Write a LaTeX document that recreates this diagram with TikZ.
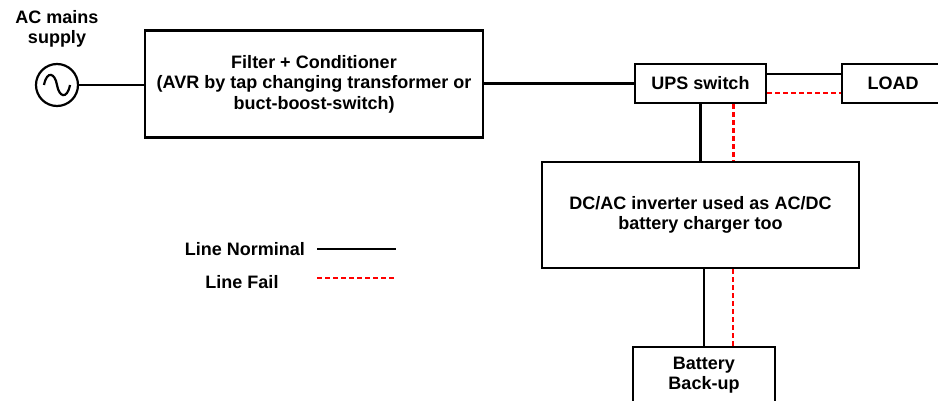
\documentclass[tikz,border=0pt]{standalone}
\usepackage{fontspec}
\setmainfont{Liberation Sans}
\begin{document}
\begin{tikzpicture}[x=1pt,y=-1pt,
  txt/.style={font=\fontsize{18}{20.5}\selectfont\bfseries,align=center,inner sep=0pt},
  blk/.style={draw=black,line width=2.6pt,rectangle,inner sep=0pt,font=\fontsize{18}{20.5}\selectfont\bfseries,align=center},
  nominal/.style={draw=black,line width=2.6pt},
  fail/.style={draw=red,line width=2.4pt,dash pattern=on 5pt off 3pt}]
\useasboundingbox (0,0) rectangle (938,401);
\clip (0,0) rectangle (938,401);
% nodes
\node[txt] (aclbl) at (57,29) {AC mains\\supply};
\node[draw=black,line width=2.2pt,circle,minimum size=42pt,inner sep=0pt] (ac) at (57,85) {};
\draw[line width=2.2pt] ([xshift=-13pt]ac.center) .. controls ([xshift=-10pt,yshift=15pt]ac.center) and ([xshift=-2pt,yshift=12pt]ac.center) .. (ac.center)
  .. controls ([xshift=2pt,yshift=-12pt]ac.center) and ([xshift=10pt,yshift=-15pt]ac.center) .. ([xshift=13pt]ac.center);
\node[blk,minimum width=338pt,minimum height=107pt] (filter) at (314,84) {Filter + Conditioner\\(AVR by tap changing transformer or\\buct-boost-switch)};
\node[blk,minimum width=131pt,minimum height=39pt] (ups) at (700.5,83.5) {UPS switch};
\node[blk,minimum width=102pt,minimum height=39pt] (load) at (893,83.5) {LOAD};
\node[blk,minimum width=317pt,minimum height=106pt] (inv) at (700.5,215) {DC/AC inverter used as AC/DC\\battery charger too};
\node[blk,minimum width=142pt,minimum height=60pt] (bat) at (704,377) {};
\node[txt] (battxt) at (704,375) {Battery\\Back-up};
% connectors
\draw[nominal] (ac.east) -- (ac.east -| filter.west);
\draw[nominal] (filter.east |- ups.west) -- (ups.west);
\draw[nominal] ([yshift=9.5pt]ups.east) -- ([yshift=9.5pt]load.west);
\draw[fail] ([yshift=-9.5pt]ups.east) -- ([yshift=-9.5pt]load.west);
\draw[nominal] (ups.south) -- (ups.south |- inv.north);
\draw[fail] ([xshift=33pt]ups.south) -- ([xshift=33pt]ups.south |- inv.north);
\draw[nominal] (bat.north) -- (bat.north |- inv.south);
\draw[fail] ([xshift=29pt]bat.north) -- ([xshift=29pt]bat.north |- inv.south);
% legend
\node[txt,anchor=east] (lnom) at (305,249) {Line Norminal};
\node[txt] (lfail) at (242,282) {Line Fail};
\coordinate (n1) at (317,249);
\coordinate (n2) at (396,249);
\coordinate (f1) at (317,278);
\coordinate (f2) at (396,278);
\draw[nominal] (n1) -- (n2);
\draw[fail] (f1) -- (f2);
\end{tikzpicture}
\end{document}
